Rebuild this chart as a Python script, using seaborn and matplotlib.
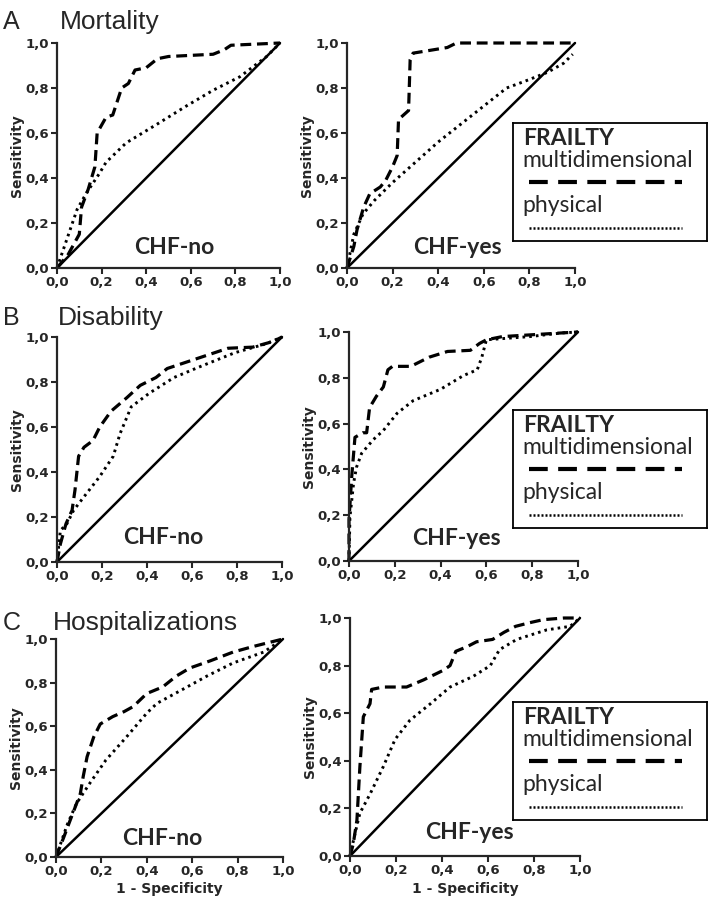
import matplotlib.pyplot as plt
import pandas as pd
import seaborn as sns

# ROC curves (x = 1 - specificity, y = sensitivity)
mort_no_multi_x = [0, 0.05, 0.10, 0.11, 0.14, 0.17, 0.18, 0.22, 0.25, 0.29, 0.32, 0.35, 0.40, 0.45, 0.50, 0.70, 0.75, 0.78, 1.0]
mort_no_multi_y = [0, 0.06, 0.15, 0.27, 0.35, 0.45, 0.60, 0.67, 0.68, 0.80, 0.82, 0.88, 0.89, 0.93, 0.94, 0.95, 0.97, 0.99, 1.0]
mort_no_phys_x = [0, 0.045, 0.09, 0.13, 0.19, 0.22, 0.31, 0.45, 0.58, 0.70, 0.82, 0.94, 1.0]
mort_no_phys_y = [0, 0.13, 0.26, 0.33, 0.42, 0.47, 0.556, 0.64, 0.72, 0.79, 0.85, 0.94, 1.0]

mort_yes_multi_x = [0, 0.03, 0.044, 0.073, 0.10, 0.146, 0.17, 0.20, 0.22, 0.226, 0.27, 0.277, 0.29, 0.44, 0.48, 1.0]
mort_yes_multi_y = [0, 0.096, 0.17, 0.27, 0.33, 0.36, 0.39, 0.45, 0.50, 0.66, 0.70, 0.926, 0.955, 0.98, 1.0, 1.0]
mort_yes_phys_x = [0, 0.03, 0.07, 0.12, 0.20, 0.30, 0.40, 0.50, 0.60, 0.70, 0.78, 0.88, 0.95, 0.99]
mort_yes_phys_y = [0, 0.15, 0.24, 0.30, 0.38, 0.47, 0.56, 0.64, 0.72, 0.80, 0.83, 0.87, 0.91, 0.95]

dis_no_multi_x = [0, 0.015, 0.04, 0.067, 0.08, 0.096, 0.12, 0.16, 0.19, 0.24, 0.31, 0.37, 0.44, 0.49, 0.58, 0.67, 0.76, 0.87, 0.96, 1.0]
dis_no_multi_y = [0, 0.08, 0.17, 0.23, 0.32, 0.47, 0.51, 0.54, 0.60, 0.67, 0.73, 0.785, 0.82, 0.86, 0.89, 0.92, 0.95, 0.955, 0.98, 1.0]
dis_no_phys_x = [0, 0.015, 0.044, 0.074, 0.12, 0.19, 0.25, 0.28, 0.33, 0.41, 0.52, 0.64, 0.79, 0.93, 1.0]
dis_no_phys_y = [0, 0.14, 0.17, 0.23, 0.29, 0.38, 0.47, 0.57, 0.69, 0.75, 0.82, 0.87, 0.93, 0.97, 1.0]

dis_yes_multi_x = [0, 0, 0.012, 0.026, 0.06, 0.077, 0.09, 0.12, 0.15, 0.17, 0.19, 0.27, 0.29, 0.35, 0.43, 0.53, 0.57, 0.60, 0.67, 0.93, 1.0]
dis_yes_multi_y = [0, 0.18, 0.37, 0.54, 0.56, 0.56, 0.67, 0.72, 0.76, 0.835, 0.85, 0.85, 0.86, 0.89, 0.915, 0.92, 0.95, 0.966, 0.98, 0.996, 1.0]
dis_yes_phys_x = [0, 0.004, 0.02, 0.033, 0.055, 0.106, 0.15, 0.21, 0.28, 0.40, 0.50, 0.56, 0.58, 0.60, 0.79, 0.93, 1.0]
dis_yes_phys_y = [0, 0.19, 0.34, 0.41, 0.47, 0.53, 0.57, 0.645, 0.70, 0.75, 0.81, 0.835, 0.89, 0.966, 0.98, 0.996, 1.0]

hosp_no_multi_x = [0, 0.034, 0.063, 0.085, 0.107, 0.12, 0.137, 0.166, 0.195, 0.25, 0.30, 0.34, 0.40, 0.47, 0.53, 0.59, 0.68, 0.78, 0.87, 1.0]
hosp_no_multi_y = [0, 0.09, 0.17, 0.23, 0.29, 0.37, 0.46, 0.55, 0.61, 0.644, 0.667, 0.69, 0.75, 0.78, 0.83, 0.867, 0.90, 0.94, 0.966, 1.0]
hosp_no_phys_x = [0, 0.05, 0.09, 0.15, 0.22, 0.31, 0.40, 0.445, 0.56, 0.665, 0.78, 0.915, 1.0]
hosp_no_phys_y = [0, 0.15, 0.245, 0.34, 0.445, 0.55, 0.66, 0.705, 0.77, 0.83, 0.89, 0.94, 1.0]

hosp_yes_multi_x = [0, 0.014, 0.03, 0.043, 0.058, 0.087, 0.094, 0.145, 0.246, 0.32, 0.405, 0.435, 0.46, 0.51, 0.55, 0.62, 0.67, 0.72, 0.78, 0.84, 0.93, 1.0]
hosp_yes_multi_y = [0, 0.05, 0.15, 0.375, 0.585, 0.64, 0.70, 0.71, 0.71, 0.74, 0.78, 0.80, 0.86, 0.88, 0.90, 0.91, 0.94, 0.965, 0.98, 0.993, 1.0, 1.0]
hosp_yes_phys_x = [0, 0.022, 0.043, 0.087, 0.145, 0.196, 0.26, 0.35, 0.435, 0.536, 0.61, 0.65, 0.725, 0.855, 0.957, 1.0]
hosp_yes_phys_y = [0, 0.095, 0.18, 0.26, 0.376, 0.49, 0.57, 0.64, 0.71, 0.755, 0.80, 0.867, 0.91, 0.95, 0.965, 1.0]

row_letters = ['A', 'B', 'C']
row_titles = ['Mortality', 'Disability', 'Hospitalizations']
ticks = [0, 0.2, 0.4, 0.6, 0.8, 1.0]
tick_labels = ['0,0', '0,2', '0,4', '0,6', '0,8', '1,0']

sns.set_style('ticks')

W, H = 709, 908
fig = plt.figure(figsize=(W / 100, H / 100), dpi=100)


def px_axes(left, top, right, bottom):
    return fig.add_axes([left / W, 1 - bottom / H, (right - left) / W, (bottom - top) / H])


def draw_panel(ax, mx, my, phx, phy, label, lx, ly, xlabel=False):
    df_m = pd.DataFrame({'x': mx, 'y': my})
    df_p = pd.DataFrame({'x': phx, 'y': phy})
    ax.plot([0, 1], [0, 1], color='black', lw=1.8, clip_on=False)
    sns.lineplot(data=df_p, x='x', y='y', ax=ax, estimator=None, sort=False,
                 color='black', lw=2.1, linestyle=(0, (0.9, 1.4)), clip_on=False)
    sns.lineplot(data=df_m, x='x', y='y', ax=ax, estimator=None, sort=False,
                 color='black', lw=2.3, linestyle=(0, (3.4, 1.8)), clip_on=False)
    ax.set_xlim(0, 1)
    ax.set_ylim(0, 1)
    ax.set_xticks(ticks)
    ax.set_yticks(ticks)
    ax.set_xticklabels(tick_labels, fontsize=9.5, fontweight='heavy')
    ax.set_yticklabels(tick_labels, fontsize=9.5, fontweight='heavy')
    ax.tick_params(width=1.5, length=4, pad=2)
    for s in ['left', 'bottom']:
        ax.spines[s].set_linewidth(1.6)
    sns.despine(ax=ax)
    ax.set_ylabel('Sensitivity', fontsize=10, fontweight='heavy', labelpad=1)
    ax.set_xlabel('1 - Specificity' if xlabel else '', fontsize=10, fontweight='heavy', labelpad=3)
    ax.text(lx, ly, label, fontsize=16.5, fontweight='bold', family='Lato',
            ha='center', va='center', transform=ax.transAxes)


def draw_legend(top):
    lg = px_axes(513, top, 707, top + 118)
    lg.set_xlim(0, 1)
    lg.set_ylim(0, 1)
    lg.set_xticks([])
    lg.set_yticks([])
    for s in lg.spines.values():
        s.set_visible(True)
        s.set_linewidth(1.3)
        s.set_color('black')
    lg.text(0.05, 0.87, 'FRAILTY', fontsize=16.5, fontweight='bold', family='Lato', va='center')
    lg.text(0.05, 0.68, 'multidimensional', fontsize=16.5, family='Lato', va='center')
    lg.plot([0.08, 0.87], [0.50, 0.50], color='black', lw=3.0, linestyle=(0, (4.5, 2.5)))
    lg.text(0.05, 0.30, 'physical', fontsize=16.5, family='Lato', va='center')
    lg.plot([0.08, 0.87], [0.11, 0.11], color='black', lw=1.8, linestyle=(0, (0.8, 0.8)))


# row A
ax = px_axes(57, 43, 280, 268)
draw_panel(ax, mort_no_multi_x, mort_no_multi_y, mort_no_phys_x, mort_no_phys_y, 'CHF-no', 0.525, 0.093)
ax = px_axes(347, 43, 575, 268)
draw_panel(ax, mort_yes_multi_x, mort_yes_multi_y, mort_yes_phys_x, mort_yes_phys_y, 'CHF-yes', 0.485, 0.09)
draw_legend(123)

# row B
ax = px_axes(57, 337, 282, 562)
draw_panel(ax, dis_no_multi_x, dis_no_multi_y, dis_no_phys_x, dis_no_phys_y, 'CHF-no', 0.47, 0.107)
ax = px_axes(349, 332, 578, 561)
draw_panel(ax, dis_yes_multi_x, dis_yes_multi_y, dis_yes_phys_x, dis_yes_phys_y, 'CHF-yes', 0.47, 0.10)
draw_legend(410)

# row C
ax = px_axes(56, 639, 283, 857)
draw_panel(ax, hosp_no_multi_x, hosp_no_multi_y, hosp_no_phys_x, hosp_no_phys_y, 'CHF-no', 0.47, 0.087, xlabel=True)
ax = px_axes(350, 618, 580, 856)
draw_panel(ax, hosp_yes_multi_x, hosp_yes_multi_y, hosp_yes_phys_x, hosp_yes_phys_y, 'CHF-yes', 0.52, 0.10, xlabel=True)
draw_legend(702)

# row letters and titles
for letter, title, base, tx in zip(row_letters, row_titles, [29, 325, 630], [60, 58, 53]):
    fig.text(3 / W, 1 - base / H, letter, fontsize=18, family='Liberation Sans', va='baseline')
    fig.text(tx / W, 1 - base / H, title, fontsize=19, family='Liberation Sans', va='baseline')

fig.savefig('out.png', dpi=100)
